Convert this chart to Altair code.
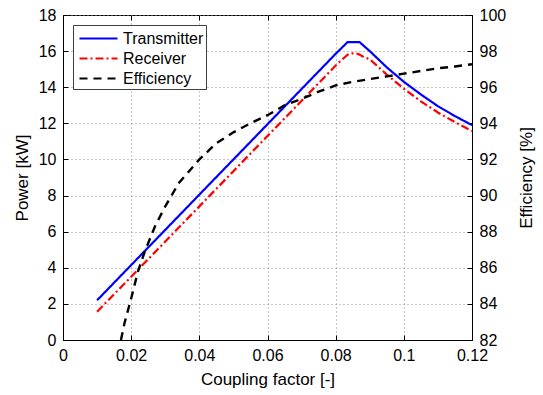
import altair as alt
import pandas as pd

# ---- data ----
series_names = ["Transmitter", "Receiver", "Efficiency"]

k_tx = [0.01, 0.02, 0.03, 0.04, 0.05, 0.06, 0.07, 0.08, 0.0835, 0.087,
        0.09, 0.095, 0.1, 0.105, 0.11, 0.115, 0.12]
p_tx = [2.2, 4.15, 6.1, 8.05, 10.0, 11.95, 13.9, 15.85, 16.5, 16.5,
        16.0, 15.1, 14.3, 13.6, 12.95, 12.4, 11.9]

k_rx = [0.01, 0.02, 0.03, 0.04, 0.05, 0.06, 0.07, 0.08, 0.082, 0.0835,
        0.085, 0.0865, 0.088, 0.09, 0.095, 0.1, 0.105, 0.11, 0.115, 0.12]
p_rx = [1.57, 3.5, 5.45, 7.4, 9.35, 11.3, 13.25, 15.2, 15.55, 15.8,
        15.88, 15.85, 15.7, 15.55, 14.7, 13.92, 13.22, 12.6, 12.07, 11.57]

k_eff = [0.017, 0.018, 0.02, 0.022, 0.024, 0.027, 0.03, 0.034, 0.04, 0.045,
         0.05, 0.055, 0.06, 0.065, 0.07, 0.075, 0.08, 0.085, 0.09, 0.095,
         0.1, 0.105, 0.11, 0.115, 0.12]
eff = [82.0, 82.9, 84.3, 85.8, 86.9, 88.3, 89.4, 90.7, 92.0, 92.9,
       93.5, 94.0, 94.45, 95.0, 95.35, 95.75, 96.1, 96.3, 96.45, 96.6,
       96.75, 96.9, 97.05, 97.15, 97.27]

x_ticks = [0, 0.02, 0.04, 0.06, 0.08, 0.1, 0.12]
x_labels = ["0", "0.02", "0.04", "0.06", "0.08", "0.1", "0.12"]
p_ticks = [0, 2, 4, 6, 8, 10, 12, 14, 16, 18]
e_ticks = [82, 84, 86, 88, 90, 92, 94, 96, 98, 100]

df_p = pd.DataFrame({
    "k": k_tx + k_rx,
    "p": p_tx + p_rx,
    "series": ["Transmitter"] * len(k_tx) + ["Receiver"] * len(k_rx),
})
df_e = pd.DataFrame({"k": k_eff, "e": eff, "series": ["Efficiency"] * len(k_eff)})

FONT = "Liberation Sans"

color_scale = alt.Scale(domain=series_names, range=["#0000ff", "#ff0000", "#000000"])
dash_scale = alt.Scale(domain=series_names, range=[[1, 0], [8, 3, 2, 3], [8, 6]])

legend = alt.Legend(
    title=None, orient="none", legendX=10, legendY=10,
    fillColor="white", strokeColor="#404040", padding=2,
    symbolType="M-0.7,0H3.1", symbolSize=400, symbolStrokeWidth=2.2,
    symbolFillColor="transparent",
    labelFontSize=16, labelFont=FONT, labelColor="black", labelOffset=25,
    rowPadding=0,
)

x_scale = alt.Scale(domain=[0, 0.12], nice=False)
p_scale = alt.Scale(domain=[0, 18], nice=False)
e_scale = alt.Scale(domain=[82, 100], nice=False)

x_label_expr = "{" + ",".join(f"'{v}':'{s}'" for v, s in zip(x_ticks, x_labels)) + "}[toString(datum.value)] || format(datum.value, '~g')"

power = alt.Chart(df_p).mark_line(strokeWidth=2.2, clip=True).encode(
    x=alt.X("k:Q", scale=x_scale,
            axis=alt.Axis(title="Coupling factor [-]", values=x_ticks,
                          labelExpr="format(datum.value, '~g')",
                          grid=True, labelFlush=False, labelOverlap=False,
                          labelBound=False)),
    y=alt.Y("p:Q", scale=p_scale,
            axis=alt.Axis(title="Power [kW]", values=p_ticks, grid=True, orient="left",
                          labelFlush=False, titlePadding=7)),
    color=alt.Color("series:N", scale=color_scale, legend=legend),
    strokeDash=alt.StrokeDash("series:N", scale=dash_scale, legend=legend),
)

effic = alt.Chart(df_e).mark_line(strokeWidth=2.4, clip=True).encode(
    x=alt.X("k:Q", scale=x_scale, axis=None),
    y=alt.Y("e:Q", scale=e_scale,
            axis=alt.Axis(title="Efficiency [%]", values=e_ticks, grid=False,
                          orient="right", titleAngle=270, titlePadding=30,
                          labelFlush=False)),
    color=alt.Color("series:N", scale=color_scale, legend=legend),
    strokeDash=alt.StrokeDash("series:N", scale=dash_scale, legend=legend),
)

tick_axis = dict(ticks=True, tickSize=5, tickColor="black", tickWidth=1,
                 labels=False, domain=False, grid=False, title=None, offset=-5)

ticks_lb = alt.Chart(df_p).mark_line(opacity=0).encode(
    x=alt.X("k:Q", scale=x_scale, axis=alt.Axis(values=x_ticks, orient="bottom", **tick_axis)),
    y=alt.Y("p:Q", scale=p_scale, axis=alt.Axis(values=p_ticks, orient="left", **tick_axis)),
)
ticks_tr = alt.Chart(df_e).mark_line(opacity=0).encode(
    x=alt.X("k:Q", scale=x_scale, axis=alt.Axis(values=x_ticks, orient="top", **tick_axis)),
    y=alt.Y("e:Q", scale=e_scale, axis=alt.Axis(values=e_ticks, orient="right", **tick_axis)),
)

chart = alt.layer(power, effic, ticks_lb, ticks_tr).resolve_scale(
    y="independent"
).resolve_axis(
    x="independent", y="independent"
).properties(
    width=409, height=325,
    autosize=alt.AutoSizeParams(type="none"),
    padding={"left": 63, "top": 15, "right": 71, "bottom": 55},
    background="white",
).configure_view(
    stroke="black", strokeWidth=1,
).configure_axis(
    labelFont=FONT, titleFont=FONT, labelFontSize=16, titleFontSize=17,
    titleFontWeight="normal", labelColor="black", titleColor="black",
    domainColor="black", domainWidth=1, ticks=False, labelPadding=7,
    gridColor="#8c8c8c", gridDash=[1, 3], gridWidth=1, titlePadding=8,
    labelFlush=False,
)

chart.save("out.html", embed_options={"renderer": "svg", "actions": False})
